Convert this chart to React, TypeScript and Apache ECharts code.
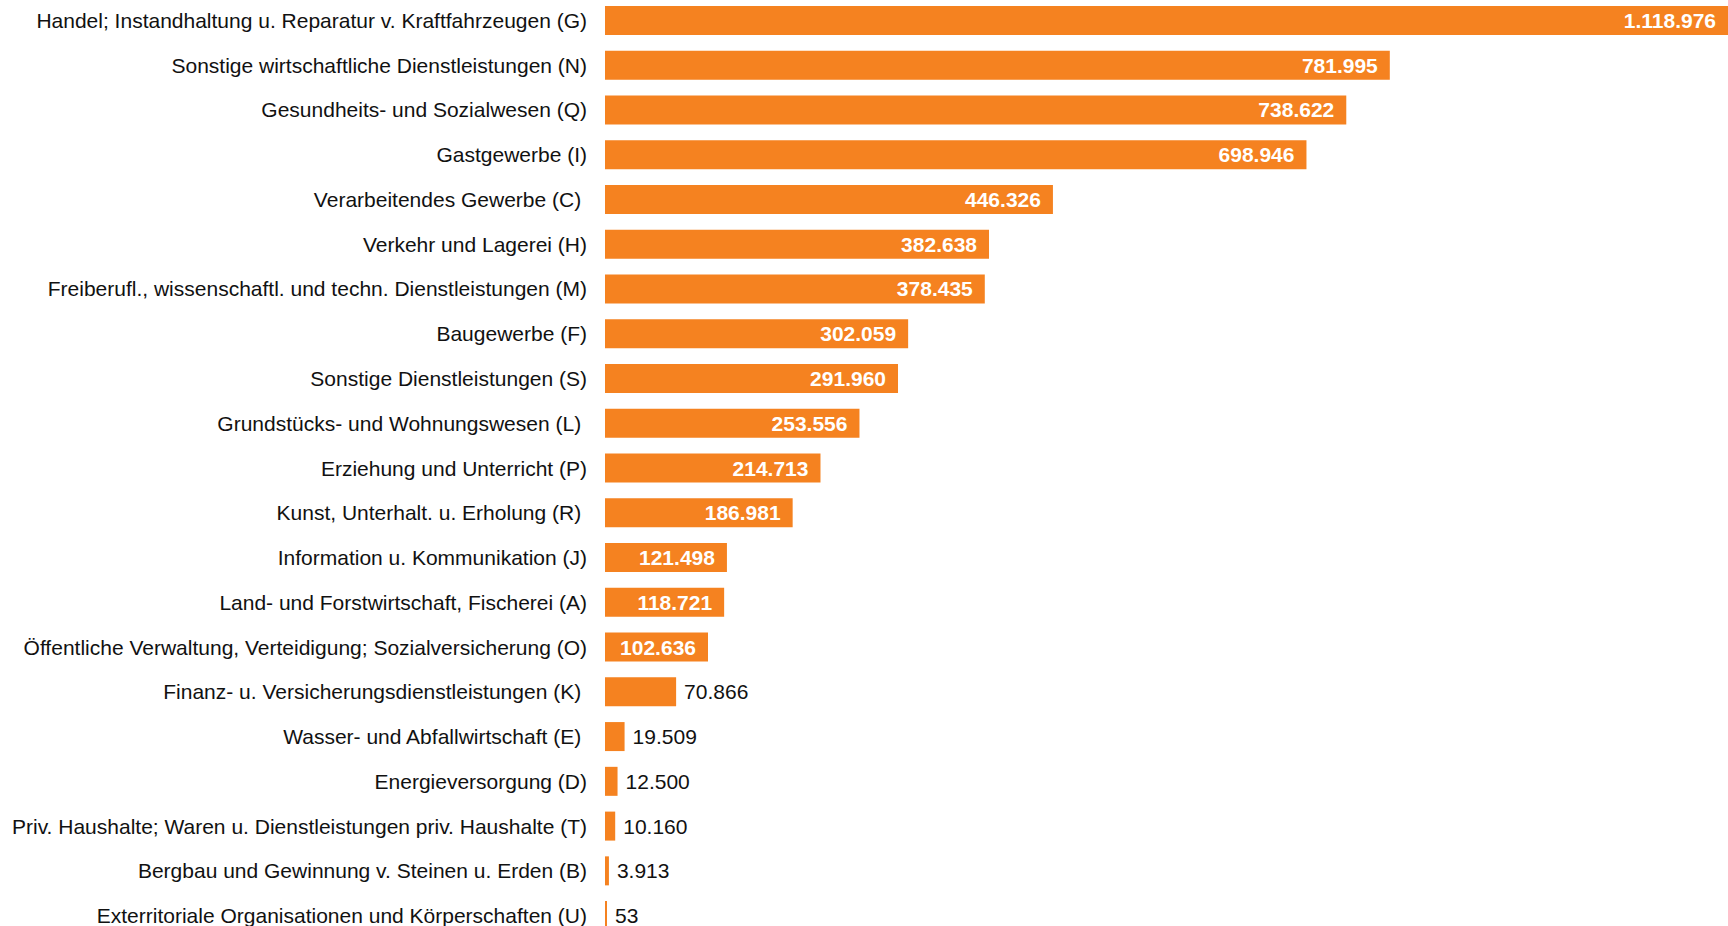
import React, { useEffect, useRef } from "react";
import * as echarts from "echarts";

const categories = [
  "Handel; Instandhaltung u. Reparatur v. Kraftfahrzeugen (G)",
  "Sonstige wirtschaftliche Dienstleistungen (N)",
  "Gesundheits- und Sozialwesen (Q)",
  "Gastgewerbe (I)",
  "Verarbeitendes Gewerbe (C) ",
  "Verkehr und Lagerei (H)",
  "Freiberufl., wissenschaftl. und techn. Dienstleistungen (M)",
  "Baugewerbe (F)",
  "Sonstige Dienstleistungen (S)",
  "Grundstücks- und Wohnungswesen (L) ",
  "Erziehung und Unterricht (P)",
  "Kunst, Unterhalt. u. Erholung (R) ",
  "Information u. Kommunikation (J)",
  "Land- und Forstwirtschaft, Fischerei (A)",
  "Öffentliche Verwaltung, Verteidigung; Sozialversicherung (O)",
  "Finanz- u. Versicherungsdienstleistungen (K) ",
  "Wasser- und Abfallwirtschaft (E) ",
  "Energieversorgung (D)",
  "Priv. Haushalte; Waren u. Dienstleistungen priv. Haushalte (T)",
  "Bergbau und Gewinnung v. Steinen u. Erden (B)",
  "Exterritoriale Organisationen und Körperschaften (U)",
];

const values = [
  1118976, 781995, 738622, 698946, 446326, 382638, 378435, 302059, 291960,
  253556, 214713, 186981, 121498, 118721, 102636, 70866, 19509, 12500, 10160,
  3913, 53,
];

const insideThreshold = 100000;
const fmt = (v: number) =>
  v.toString().replace(/\B(?=(\d{3})+(?!\d))/g, ".");

export default function App() {
  const ref = useRef<HTMLDivElement>(null);
  useEffect(() => {
    if (!ref.current) return;
    const chart = echarts.init(ref.current, null, { renderer: "svg" });
    const font = "'Liberation Sans', Arial, sans-serif";
    chart.setOption({
      animation: false,
      grid: { left: 605, right: 0, top: 0, bottom: 0, containLabel: false },
      xAxis: {
        type: "value",
        min: 0,
        max: 1118976,
        show: false,
      },
      yAxis: {
        type: "category",
        data: categories,
        inverse: true,
        axisLine: { show: false },
        axisTick: { show: false },
        axisLabel: {
          margin: 18,
          fontFamily: font,
          fontSize: 21,
          color: "#111",
        },
      },
      series: [
        {
          type: "bar",
          barWidth: 29,
          barMinHeight: 2,
          itemStyle: { color: "#F58220" },
          data: values.map((v) =>
            v >= insideThreshold
              ? {
                  value: v,
                  label: {
                    show: true,
                    position: "insideRight",
                    distance: 12,
                    color: "#fff",
                    fontWeight: "bold",
                    fontFamily: font,
                    fontSize: 21,
                    formatter: () => fmt(v),
                  },
                }
              : {
                  value: v,
                  label: {
                    show: true,
                    position: "right",
                    distance: 8,
                    color: "#111",
                    fontFamily: font,
                    fontSize: 21,
                    formatter: () => fmt(v),
                  },
                }
          ),
        },
      ],
    });
    return () => chart.dispose();
  }, []);
  return (
    <div
      ref={ref}
      style={{
        position: "fixed",
        left: 0,
        top: -2,
        width: 1728,
        height: 940,
        background: "#fff",
      }}
    />
  );
}
